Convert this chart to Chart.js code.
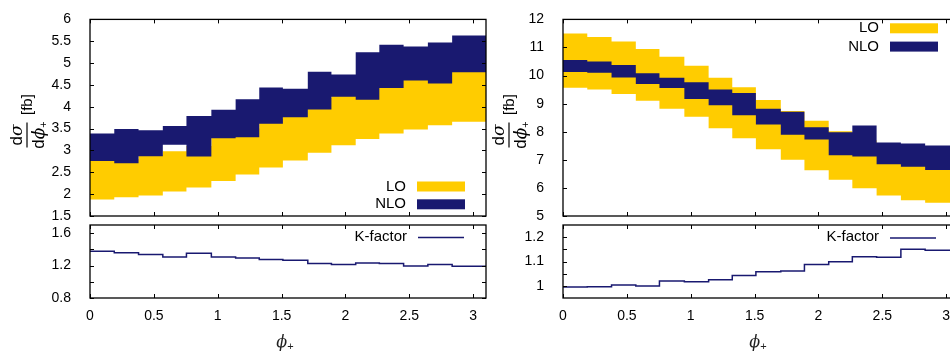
<!DOCTYPE html>
<html>
<head>
<meta charset="utf-8">
<script src="https://cdn.jsdelivr.net/npm/chart.js@4.4.1/dist/chart.umd.min.js"></script>
<style>
  html, body { margin: 0; padding: 0; background: #fff; overflow: hidden; width: 950px; height: 352px; }
  canvas { position: absolute; left: 0; top: 0; }
</style>
</head>
<body>
<canvas id="mainL" width="970" height="352"></canvas>
<canvas id="kL" width="970" height="352"></canvas>
<canvas id="mainR" width="970" height="352"></canvas>
<canvas id="kR" width="970" height="352"></canvas>
<script>
// bin edges in phi_+ (last bin runs to the end of the axis)
const binEdges = [0, 0.19, 0.38, 0.57, 0.755, 0.95, 1.14, 1.325, 1.51, 1.705, 1.89, 2.08, 2.265, 2.455, 2.645, 2.835, 3.1];
const xTicks = [0, 0.5, 1, 1.5, 2, 2.5, 3];

// left panel: scale-variation bands [fb]
const leftLoLow   = [1.88, 1.93, 1.97, 2.06, 2.15, 2.30, 2.45, 2.61, 2.77, 2.95, 3.12, 3.26, 3.39, 3.48, 3.58, 3.66];
const leftLoHigh  = [2.82, 2.80, 2.90, 2.98, 3.10, 3.32, 3.50, 3.72, 3.95, 4.20, 4.40, 4.60, 4.78, 4.92, 5.05, 5.20];
const leftNloLow  = [2.76, 2.71, 2.87, 3.13, 2.86, 3.28, 3.30, 3.61, 3.76, 3.94, 4.23, 4.16, 4.43, 4.60, 4.53, 4.79];
const leftNloHigh = [3.39, 3.49, 3.46, 3.56, 3.79, 3.93, 4.17, 4.44, 4.41, 4.80, 4.74, 5.25, 5.42, 5.38, 5.47, 5.63];
const leftK       = [1.376, 1.359, 1.335, 1.307, 1.351, 1.307, 1.294, 1.274, 1.265, 1.225, 1.212, 1.233, 1.225, 1.196, 1.212, 1.192];

// right panel
const rightLoLow   = [9.57, 9.50, 9.34, 9.10, 8.82, 8.53, 8.12, 7.77, 7.38, 7.00, 6.63, 6.29, 5.99, 5.73, 5.56, 5.47];
const rightLoHigh  = [11.50, 11.37, 11.21, 10.95, 10.67, 10.35, 9.92, 9.58, 9.13, 8.74, 8.39, 8.02, 7.70, 7.30, 7.15, 7.00];
const rightNloLow  = [10.13, 10.10, 9.93, 9.70, 9.56, 9.17, 8.94, 8.59, 8.26, 7.89, 7.72, 7.16, 7.12, 6.84, 6.75, 6.64];
const rightNloHigh = [10.55, 10.50, 10.38, 10.08, 9.92, 9.76, 9.50, 9.38, 8.82, 8.71, 8.16, 7.98, 8.22, 7.62, 7.58, 7.51];
const rightK       = [0.995, 0.996, 1.003, 0.999, 1.020, 1.017, 1.025, 1.042, 1.058, 1.061, 1.088, 1.099, 1.120, 1.117, 1.150, 1.146];

// y ticks / labelled ticks
const mainLTicks = [1.5, 2, 2.5, 3, 3.5, 4, 4.5, 5, 5.5, 6];
const mainRTicks = [5, 6, 7, 8, 9, 10, 11, 12];
const kLTicks = [0.8, 1.0, 1.2, 1.4, 1.6];
const kLLabels = [0.8, 1.2, 1.6];
const kRTicks = [1.0, 1.05, 1.1, 1.15, 1.2];
const kRLabels = [1.0, 1.1, 1.2];

const FONT = '"Liberation Sans", Arial, sans-serif';
const MATH = '"DejaVu Serif", serif';
const NAVY = '#191970';
const GOLD = '#ffcc00';
const CW = 970;

const fmt = v => String(+v.toFixed(2));

// step points: each value holds from its left edge to the next edge
function steps(vals) {
  return binEdges.map((x, i) => ({ x: x, y: vals[Math.min(i, vals.length - 1)] }));
}

function bandSets(loLow, loHigh, nloLow, nloHigh) {
  return [
    { data: steps(nloHigh), fill: 1, backgroundColor: NAVY },
    { data: steps(nloLow), fill: false },
    { data: steps(loHigh), fill: 3, backgroundColor: GOLD },
    { data: steps(loLow), fill: false }
  ].map(d => Object.assign({ stepped: true, borderWidth: 0, pointRadius: 0 }, d));
}

function xScale(withLabels) {
  return {
    type: 'linear', min: 0, max: 3.1,
    grid: { display: false }, border: { display: false },
    ticks: { display: withLabels, autoSkip: false, maxRotation: 0, padding: 2, color: '#000',
             font: { family: FONT, size: 14 }, callback: v => fmt(v) },
    afterBuildTicks: s => { s.ticks = xTicks.map(v => ({ value: v })); },
    afterFit: s => { s.height = withLabels ? 30 : 0; }
  };
}

function yScale(min, max, tickVals, labelVals) {
  return {
    type: 'linear', min: min, max: max,
    grid: { display: false }, border: { display: false },
    ticks: { autoSkip: false, padding: 11, color: '#000', font: { family: FONT, size: 14 },
             callback: v => (labelVals.indexOf(v) >= 0 ? fmt(v) : '') },
    afterBuildTicks: s => { s.ticks = tickVals.map(v => ({ value: v })); },
    afterFit: s => { s.width = 50; }
  };
}

// text helpers for the axis titles
function drawRuns(ctx, runs, x, y) {
  runs.forEach(r => {
    ctx.font = r.font;
    ctx.fillText(r.t, x, y + (r.dy || 0));
    x += ctx.measureText(r.t).width + (r.gap || 0);
  });
}
function runsWidth(ctx, runs) {
  let w = 0;
  runs.forEach(r => { ctx.font = r.font; w += ctx.measureText(r.t).width + (r.gap || 0); });
  return w;
}

function drawYTitle(ctx, cx, cy) {
  ctx.save();
  ctx.translate(cx, cy);
  ctx.rotate(-Math.PI / 2);
  ctx.fillStyle = '#000';
  ctx.textAlign = 'left';
  ctx.textBaseline = 'alphabetic';
  ctx.fillRect(-12.5, -0.6, 25, 1.2);
  const num = [{ t: 'd', font: '17px ' + FONT }, { t: 'σ', font: 'italic 17px ' + MATH }];
  const den = [{ t: 'd', font: '17px ' + FONT }, { t: 'ϕ', font: 'italic 17px ' + MATH },
               { t: '+', font: '11px ' + FONT, dy: 3 }];
  drawRuns(ctx, num, -runsWidth(ctx, num) / 2, -5);
  drawRuns(ctx, den, -runsWidth(ctx, den) / 2, 17);
  ctx.font = '15px ' + FONT;
  ctx.fillText('[fb]', 20, 5);
  ctx.restore();
}

function drawXTitle(ctx, cx, y) {
  ctx.save();
  ctx.fillStyle = '#222';
  ctx.textAlign = 'left';
  ctx.textBaseline = 'alphabetic';
  const r = [{ t: 'ϕ', font: 'italic 16px ' + MATH }, { t: '+', font: '11px ' + FONT, dy: 3 }];
  drawRuns(ctx, r, cx - runsWidth(ctx, r) / 2, y);
  ctx.restore();
}

// gnuplot-like frame: box, inward ticks on all four sides, key and titles
const frame = {
  id: 'frame',
  afterDatasetsDraw(chart, args, o) {
    const ctx = chart.ctx, a = chart.chartArea;
    const sx = chart.scales.x, sy = chart.scales.y;
    ctx.save();
    ctx.strokeStyle = '#000';
    ctx.lineWidth = 1;
    ctx.beginPath();
    sx.ticks.forEach(t => {
      const px = Math.round(sx.getPixelForValue(t.value)) + 0.5;
      ctx.moveTo(px, a.bottom); ctx.lineTo(px, a.bottom - 4);
      ctx.moveTo(px, a.top); ctx.lineTo(px, a.top + 4);
    });
    sy.ticks.forEach(t => {
      const py = Math.round(sy.getPixelForValue(t.value)) + 0.5;
      ctx.moveTo(a.left, py); ctx.lineTo(a.left + 4, py);
      ctx.moveTo(a.right, py); ctx.lineTo(a.right - 4, py);
    });
    ctx.stroke();
    ctx.lineWidth = 1.3;
    ctx.strokeRect(a.left, a.top, a.right - a.left, a.bottom - a.top);

    (o.keys || []).forEach((k, i) => {
      const y = o.keyY + i * o.keyDY;
      ctx.fillStyle = '#000';
      ctx.font = '15px ' + FONT;
      ctx.textAlign = 'right';
      ctx.textBaseline = 'middle';
      ctx.fillText(k.label, o.keyX, y);
      if (k.kind === 'box') {
        ctx.fillStyle = k.color;
        ctx.fillRect(o.keyX + 11, y - 5, 48, 10);
      } else {
        ctx.strokeStyle = k.color;
        ctx.lineWidth = 1.5;
        ctx.beginPath();
        ctx.moveTo(o.keyX + 11, y + 1); ctx.lineTo(o.keyX + 57, y + 1);
        ctx.stroke();
      }
    });
    ctx.restore();

    if (o.yTitle) drawYTitle(ctx, o.yTitle[0], o.yTitle[1]);
    if (o.xTitle) drawXTitle(ctx, (a.left + a.right) / 2 - 3, o.xTitle);
  }
};
Chart.register(frame);

function makeChart(id, datasets, area, xs, ys, frameOpts) {
  return new Chart(document.getElementById(id), {
    type: 'line',
    data: { datasets: datasets },
    options: {
      responsive: false,
      animation: false,
      layout: { padding: { left: area.left - 50, right: CW - area.right, top: area.top,
                           bottom: 352 - area.bottom - (xs.ticks.display ? 30 : 0) } },
      scales: { x: xs, y: ys },
      plugins: { legend: { display: false }, tooltip: { enabled: false }, frame: frameOpts }
    }
  });
}

const bandKeys = [{ label: 'LO', kind: 'box', color: GOLD }, { label: 'NLO', kind: 'box', color: NAVY }];
const kKey = [{ label: 'K-factor', kind: 'line', color: NAVY }];

function kSet(vals) {
  return [{ data: steps(vals), stepped: true, borderColor: NAVY, borderWidth: 1.5, pointRadius: 0, fill: false }];
}

makeChart('mainL', bandSets(leftLoLow, leftLoHigh, leftNloLow, leftNloHigh),
  { left: 90, right: 486, top: 16, bottom: 216 }, xScale(false), yScale(1.5, 6, mainLTicks, mainLTicks),
  { keys: bandKeys, keyX: 406, keyY: 186.5, keyDY: 17.8, yTitle: [27, 135] });

makeChart('kL', kSet(leftK),
  { left: 90, right: 486, top: 225, bottom: 298 }, xScale(true), yScale(0.8, 1.7, kLTicks, kLLabels),
  { keys: kKey, keyX: 407, keyY: 236.5, keyDY: 0, xTitle: 347 });

makeChart('mainR', bandSets(rightLoLow, rightLoHigh, rightNloLow, rightNloHigh),
  { left: 563, right: 959, top: 16, bottom: 216 }, xScale(false), yScale(5, 12, mainRTicks, mainRTicks),
  { keys: bandKeys, keyX: 879, keyY: 28.3, keyDY: 18.3, yTitle: [509, 135] });

makeChart('kR', kSet(rightK),
  { left: 563, right: 959, top: 225, bottom: 298 }, xScale(true), yScale(0.95, 1.25, kRTicks, kRLabels),
  { keys: kKey, keyX: 879, keyY: 237, keyDY: 0, xTitle: 347 });
</script>
</body>
</html>
